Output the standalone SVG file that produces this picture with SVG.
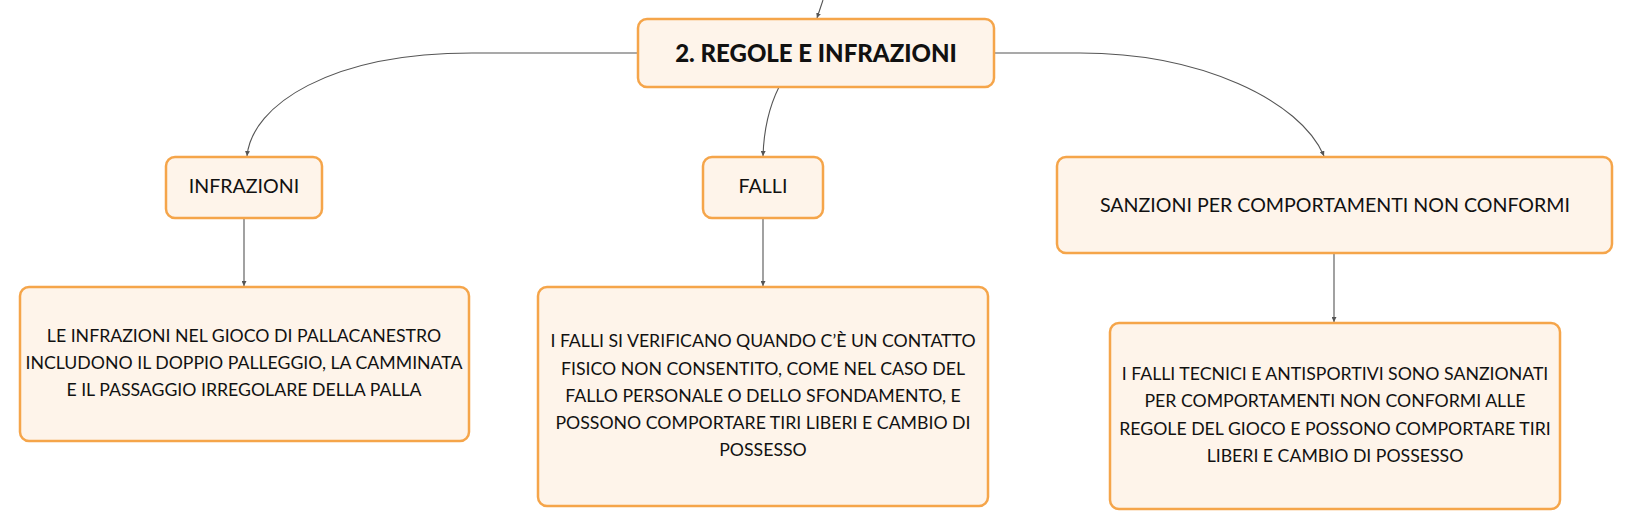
<svg xmlns="http://www.w3.org/2000/svg" width="1633" height="530" viewBox="0 0 1633 530">
<defs>
<style>
.box{fill:#FEF4EA;stroke:#F5A54A;stroke-width:2.5}
.t{font-family:Lato,"Open Sans","Liberation Sans",sans-serif;fill:#111;text-anchor:middle}
.h{font-size:19.6px}
.d{font-size:17.7px}
.title{font-size:24px;font-weight:900}
.c{fill:none;stroke:#555;stroke-width:1.1}
</style>
<marker id="arr" viewBox="0 0 10 10" refX="10" refY="5" markerWidth="5" markerHeight="5" markerUnits="userSpaceOnUse" orient="auto">
<path d="M0,0 L10,5 L0,10 z" fill="#555"/>
</marker>
</defs>
<rect width="1633" height="530" fill="#fff"/>
<g id="connectors">
<path class="c" d="M823,0 Q820,9 817,18" marker-end="url(#arr)"/>
<path class="c" d="M637,53 L472,53 C330,53 252,105 247,156" marker-end="url(#arr)"/>
<path class="c" d="M779,87 C770,105 764,125 763,156" marker-end="url(#arr)"/>
<path class="c" d="M994,53 L1080,53 C1200,53 1300,100 1324,156" marker-end="url(#arr)"/>
<path class="c" d="M244,218 L244,286" marker-end="url(#arr)"/>
<path class="c" d="M763,218 L763,286" marker-end="url(#arr)"/>
<path class="c" d="M1334,253 L1334,322" marker-end="url(#arr)"/>
</g>
<g id="main">
<rect class="box" x="638" y="19" width="356" height="68" rx="9"/>
<text class="t title" x="816" y="62">2. REGOLE E INFRAZIONI</text>
</g>
<g id="infrazioni">
<rect class="box" x="166" y="157" width="156" height="61" rx="9"/>
<text class="t h" x="244" y="193">INFRAZIONI</text>
</g>
<g id="falli">
<rect class="box" x="703" y="157" width="120" height="61" rx="9"/>
<text class="t h" x="763" y="193">FALLI</text>
</g>
<g id="sanzioni">
<rect class="box" x="1057" y="157" width="555" height="96" rx="9"/>
<text class="t h" x="1335" y="212">SANZIONI PER COMPORTAMENTI NON CONFORMI</text>
</g>
<g id="desc-infrazioni">
<rect class="box" x="20" y="287" width="449" height="154" rx="9"/>
<text class="t d" x="244" y="342">LE INFRAZIONI NEL GIOCO DI PALLACANESTRO</text>
<text class="t d" x="244" y="369">INCLUDONO IL DOPPIO PALLEGGIO, LA CAMMINATA</text>
<text class="t d" x="244" y="396">E IL PASSAGGIO IRREGOLARE DELLA PALLA</text>
</g>
<g id="desc-falli">
<rect class="box" x="538" y="287" width="450" height="219" rx="9"/>
<text class="t d" x="763" y="347">I FALLI SI VERIFICANO QUANDO C’È UN CONTATTO</text>
<text class="t d" x="763" y="375">FISICO NON CONSENTITO, COME NEL CASO DEL</text>
<text class="t d" x="763" y="402">FALLO PERSONALE O DELLO SFONDAMENTO, E</text>
<text class="t d" x="763" y="429">POSSONO COMPORTARE TIRI LIBERI E CAMBIO DI</text>
<text class="t d" x="763" y="456">POSSESSO</text>
</g>
<g id="desc-sanzioni">
<rect class="box" x="1110" y="323" width="450" height="186" rx="9"/>
<text class="t d" x="1335" y="380">I FALLI TECNICI E ANTISPORTIVI SONO SANZIONATI</text>
<text class="t d" x="1335" y="407">PER COMPORTAMENTI NON CONFORMI ALLE</text>
<text class="t d" x="1335" y="435">REGOLE DEL GIOCO E POSSONO COMPORTARE TIRI</text>
<text class="t d" x="1335" y="462">LIBERI E CAMBIO DI POSSESSO</text>
</g>
</svg>
